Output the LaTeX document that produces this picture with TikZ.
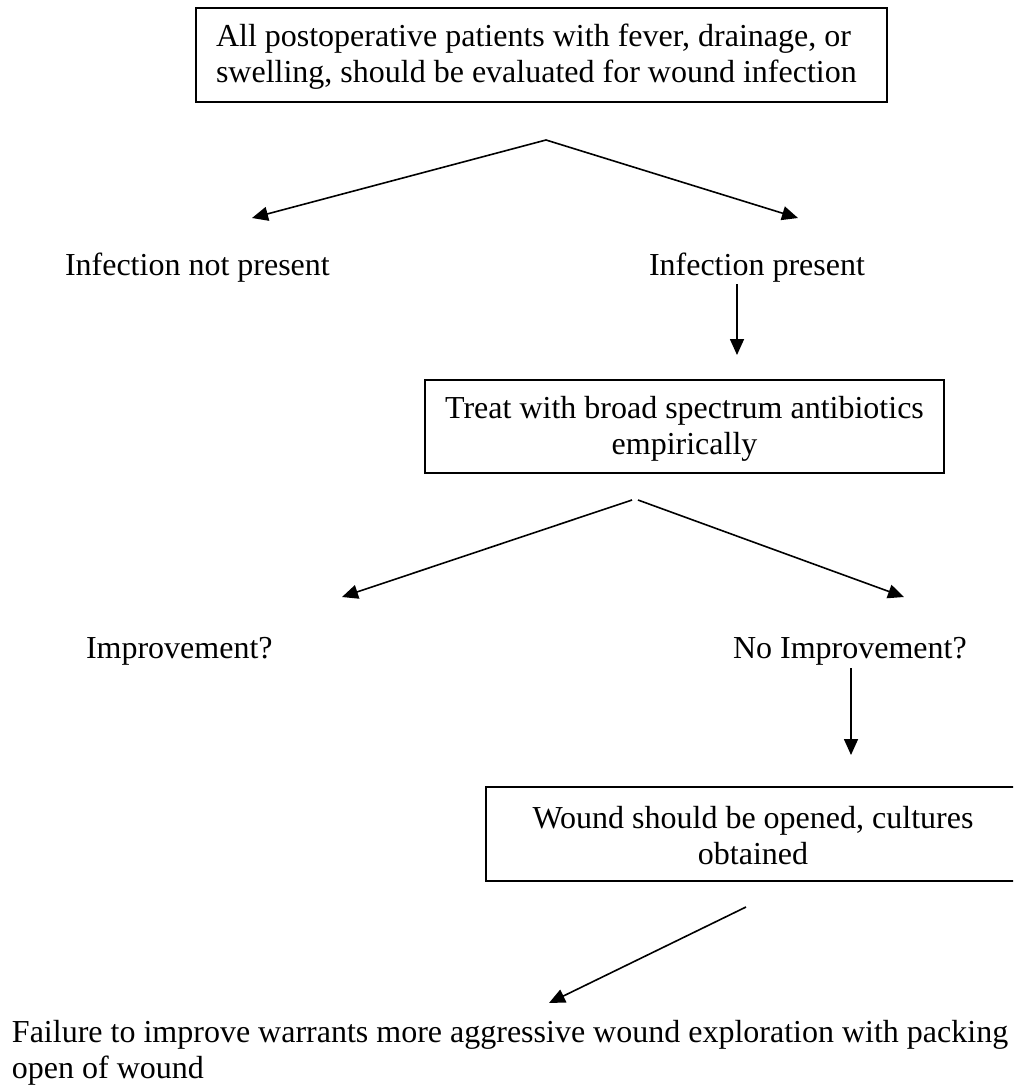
\documentclass[tikz,border=0pt]{standalone}
\usepackage{fontspec}
\setmainfont{Liberation Serif}
\usetikzlibrary{arrows.meta}
\newcommand{\tophold}{\rule{0pt}{30pt}}
\begin{document}
\begin{tikzpicture}[x=1pt,y=-1pt,
  txt/.style={font=\fontsize{32}{36}\selectfont, inner sep=0pt, outer sep=0pt},
  frame/.style={draw, line width=1.8pt, inner sep=0pt, outer sep=0pt, anchor=north west},
  lbl/.style={txt, anchor=base west},
  arr/.style={line width=1.6pt, -{Triangle[length=16pt,width=14pt]}}]
\clip (0,0) rectangle (1013,1086);
\fill[white] (0,0) rectangle (1013,1086);

% boxes
\node[frame, minimum width=691pt, minimum height=94pt] (b1) at (196,8) {};
\node[frame, minimum width=519pt, minimum height=93pt] (b2) at (425,380) {};
\node[frame, minimum width=534pt, minimum height=94pt] (b3) at (486,787) {};

% box texts (top strut puts first baseline 30pt below the node top)
\node[txt, align=left, anchor=north west] (b1t) at (216,17)
  {\tophold All postoperative patients with fever, drainage, or\\
   swelling, should be evaluated for wound infection};
\node[txt, align=center, anchor=north] (b2t) at (684.5,388)
  {\tophold Treat with broad spectrum antibiotics\\ empirically};
\node[txt, align=center, anchor=north] (b3t) at (753,798)
  {\tophold Wound should be opened, cultures\\ obtained};

% labels
\node[lbl] (np) at (65,275) {Infection not present};
\node[lbl] (ip) at (649,275) {Infection present};
\node[lbl] (im) at (86,658) {Improvement?};
\node[lbl] (ni) at (733,658) {No Improvement?};
\node[txt, align=left, anchor=north west] (fl) at (12,1012)
  {\tophold Failure to improve warrants more aggressive wound exploration with packing\\ open of wound};

% connector ends
\coordinate (f1) at (546,140);
\coordinate (t1l) at (252,218);
\coordinate (t1r) at (798,218);
\coordinate (d1s) at (737,284);
\coordinate (d1e) at (737,355);
\coordinate (f2l) at (632,500);
\coordinate (f2r) at (638,500);
\coordinate (t2l) at (342,597);
\coordinate (t2r) at (904,597);
\coordinate (d2s) at (851,668);
\coordinate (d2e) at (851,755);
\coordinate (f3) at (746,907);
\coordinate (t3) at (549,1003);

\draw[arr] (f1) -- (t1l);
\draw[arr] (f1) -- (t1r);
\draw[arr] (d1s) -- (d1e);
\draw[arr] (f2l) -- (t2l);
\draw[arr] (f2r) -- (t2r);
\draw[arr] (d2s) -- (d2e);
\draw[arr] (f3) -- (t3);
\end{tikzpicture}
\end{document}
